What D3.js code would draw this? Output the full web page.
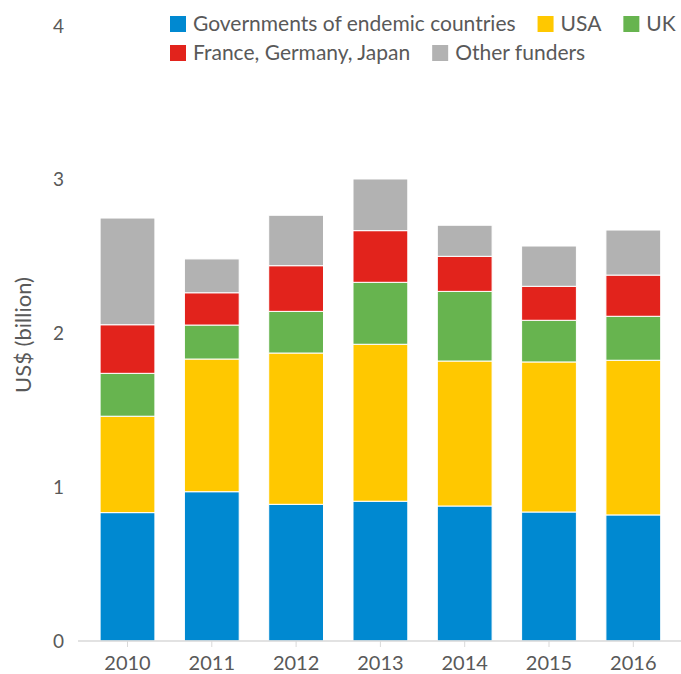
<!DOCTYPE html>
<html>
<head>
<meta charset="utf-8">
<script src="https://cdn.jsdelivr.net/npm/d3@7"></script>
<style>
  body { margin: 0; background: #fff; }
  text { font-family: Lato, "Noto Sans", sans-serif; fill: #595959; }
</style>
</head>
<body>
<div id="chart"></div>
<script>
(function () {
    // data (US$ billion)
    const years = ["2010", "2011", "2012", "2013", "2014", "2015", "2016"];
    const funders = ["Governments of endemic countries", "USA", "UK", "France, Germany, Japan", "Other funders"];
    const colours = ["#0089d1", "#ffc800", "#67b44f", "#e2231c", "#b2b2b2"];
    const endemic = [0.835, 0.971, 0.889, 0.909, 0.878, 0.839, 0.820];
    const usa     = [0.627, 0.863, 0.984, 1.021, 0.943, 0.976, 1.006];
    const uk      = [0.279, 0.221, 0.271, 0.403, 0.453, 0.271, 0.286];
    const fgj     = [0.316, 0.210, 0.297, 0.336, 0.228, 0.221, 0.268];
    const other   = [0.694, 0.220, 0.328, 0.336, 0.202, 0.262, 0.293];
    const yTicks  = [0, 1, 2, 3, 4];

    const width = 681, height = 674;

    // build table for the stack
    const series = [endemic, usa, uk, fgj, other];
    const table = years.map((y, i) => {
        const row = { year: y };
        funders.forEach((f, j) => { row[f] = series[j][i] });
        return row;
    });
    const stacked = d3.stack().keys(funders)(table);

    const svg = d3.select("#chart").append("svg")
        .attr("width", width).attr("height", height);

    const x = d3.scaleBand().domain(years).range([85.35, 675.45]).paddingInner(0.35).paddingOuter(0.175);
    const y = d3.scaleLinear().domain([0, 4]).range([641, 26]);
    const colour = d3.scaleOrdinal().domain(funders).range(colours);

    // bars
    svg.append("g")
        .selectAll("g")
        .data(stacked)
        .join("g")
        .attr("fill", d => colour(d.key))
        .selectAll("rect")
        .data(d => d)
        .join("rect")
        .attr("x", d => x(d.data.year))
        .attr("width", x.bandwidth())
        .attr("y", d => y(d[1]))
        .attr("height", d => y(d[0]) - y(d[1]))
        .attr("stroke", "#fff")
        .attr("stroke-width", 1);

    // x axis
    const xAxis = svg.append("g")
        .attr("transform", "translate(0," + y(0) + ")")
        .call(d3.axisBottom(x).tickSize(6).tickPadding(9).tickSizeOuter(0));
    xAxis.select(".domain").remove();
    xAxis.append("line").attr("x1", 78).attr("x2", width).attr("stroke", "#d9d9d9").attr("stroke-width", 1.5);
    xAxis.selectAll(".tick line").attr("stroke", "#d9d9d9");
    xAxis.selectAll(".tick text").style("font-size", "20px").attr("fill", "#595959");

    // y axis labels, no line
    const yAxis = svg.append("g")
        .attr("transform", "translate(64,0)")
        .call(d3.axisLeft(y).tickValues(yTicks).tickSize(0).tickPadding(0).tickFormat(d3.format("d")));
    yAxis.select(".domain").remove();
    yAxis.selectAll(".tick text").style("font-size", "19px").attr("fill", "#595959");

    // y axis title
    svg.append("text")
        .attr("transform", "translate(31,335) rotate(-90)")
        .attr("text-anchor", "middle")
        .style("font-size", "22px")
        .text("US$ (billion)");

    // legend, two rows
    const rows = [[0, 1, 2], [3, 4]];
    const legend = svg.append("g");
    rows.forEach((row, r) => {
        let lx = 170;
        const ly = 31 + r * 29;
        row.forEach(k => {
            legend.append("rect")
                .attr("x", lx).attr("y", ly - 15)
                .attr("width", 16).attr("height", 16)
                .attr("fill", colours[k]);
            const t = legend.append("text")
                .attr("x", lx + 23).attr("y", ly)
                .style("font-size", "21px")
                .text(funders[k]);
            lx += 23 + t.node().getComputedTextLength() + 22;
        });
    });
})();
</script>
</body>
</html>
